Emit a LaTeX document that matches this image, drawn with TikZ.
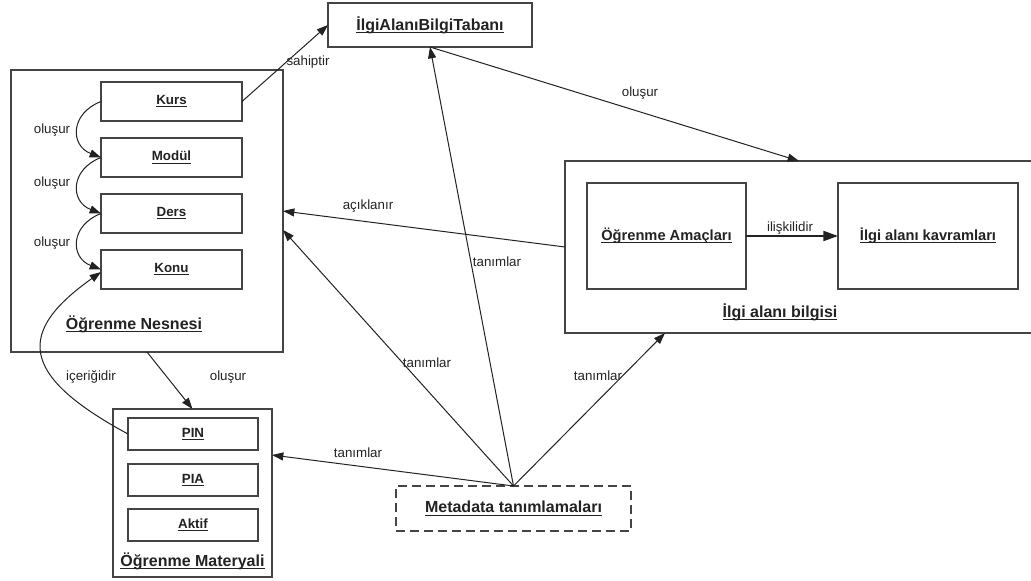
\documentclass[tikz,border=0pt]{standalone}
\usepackage{fontspec}
\setmainfont{Liberation Sans}
\usetikzlibrary{arrows.meta,calc}
\definecolor{ink}{HTML}{222222}
\definecolor{frame}{HTML}{444444}
% underline at a fixed depth below the baseline
\newcommand\ulab[1]{\setbox0=\hbox{#1}\rlap{\rule[-2pt]{\wd0}{0.8pt}}\box0}
\begin{document}
\begin{tikzpicture}[x=0.75pt,y=-0.75pt,
  box/.style={draw=frame,line width=0.9pt,rectangle,inner sep=0pt,outer sep=0pt,text=ink},
  itembox/.style={box,minimum width=105.75pt,minimum height=29.25pt,font=\fontsize{10}{12}\selectfont\bfseries},
  matbox/.style={box,minimum width=97.5pt,minimum height=24pt,font=\fontsize{10}{12}\selectfont\bfseries},
  grouplabel/.style={inner sep=0pt,text=ink,font=\fontsize{12}{14}\selectfont\bfseries},
  edgelabel/.style={inner sep=0pt,text=ink,font=\fontsize{10}{12}\selectfont},
  conn/.style={draw=ink,line width=0.75pt,-{Triangle[length=8.5pt,width=6pt]}}]
\useasboundingbox (0,0) rectangle (1031,581);

% knowledge base
\node[box,minimum width=153pt,minimum height=33pt,font=\fontsize{12}{14}\selectfont\bfseries] (ikb) at (430,25) {\ulab{İlgiAlanıBilgiTabanı}};

% learning object group
\node[box,minimum width=204pt,minimum height=211.5pt] (on) at (147,211) {};
\node[itembox] (kurs)  at (171.5,101.5) {\ulab{Kurs}};
\node[itembox] (modul) at (171.5,157.5) {\ulab{Modül}};
\node[itembox] (ders)  at (171.5,213.5) {\ulab{Ders}};
\node[itembox] (konu)  at (171.5,269.5) {\ulab{Konu}};
\node[grouplabel] (onlab) at (134,324) {\ulab{Öğrenme Nesnesi}};

% learning material group
\node[box,minimum width=119.25pt,minimum height=126pt] (om) at (192.5,493) {};
\node[matbox] (pin)   at (193,434) {\ulab{PIN}};
\node[matbox] (pia)   at (193,480) {\ulab{PIA}};
\node[matbox] (aktif) at (193,525) {\ulab{Aktif}};
\node[grouplabel] (omlab) at (192.5,561) {\ulab{Öğrenme Materyali}};

% domain knowledge group
\node[box,minimum width=351pt,minimum height=129pt] (iab) at (799,247) {};
\node[box,minimum width=119.25pt,minimum height=79.5pt,font=\fontsize{11}{13}\selectfont\bfseries] (oa) at (666.5,236) {\ulab{Öğrenme Amaçları}};
\node[box,minimum width=135pt,minimum height=79.5pt,font=\fontsize{11}{13}\selectfont\bfseries] (ik) at (928,236) {\ulab{İlgi alanı kavramları}};
\node[grouplabel] (iablab) at (780,312) {\ulab{İlgi alanı bilgisi}};

% metadata
\node[box,dash pattern=on 7pt off 3.5pt,minimum width=176.25pt,minimum height=33.75pt,font=\fontsize{12}{14}\selectfont\bfseries] (meta) at (513.5,508.5) {\ulab{Metadata tanımlamaları}};

% connectors
\draw[conn] (kurs.west) .. controls +(-31,12) and +(-31,-12) .. (modul.west);
\draw[conn] (modul.west) .. controls +(-31,12) and +(-31,-12) .. (ders.west);
\draw[conn] (ders.west) .. controls +(-31,12) and +(-31,-12) .. (konu.west);
\draw[conn] (pin.west) .. controls (17,374) and (18,331) .. ($(konu.west)+(0,2.5)$);
\draw[conn] (kurs.east) -- (ikb.west);
\draw[conn] (ikb.south) -- (iab.north);
\draw[conn] (iab.west) -- (on.east);
\draw[draw=ink,line width=1.5pt,-{Triangle[length=11pt,width=7.5pt]}] (oa.east) -- (ik.west);
\draw[conn] (on.south) -- (om.north);
\draw[conn] (meta.north) -- (ikb.south);
\draw[conn] (meta.north) -- ($(on.east)+(0,19)$);
\draw[conn] (meta.north) -- ($(iab.south west)+(100,0)$);
\draw[conn] (meta.north) -- ($(om.east)+(0,-38)$);

% connector labels
\node[edgelabel] (l1) at (52,130) {oluşur};
\node[edgelabel] (l2) at (52,183) {oluşur};
\node[edgelabel] (l3) at (52,243) {oluşur};
\node[edgelabel] (l4) at (308,62) {sahiptir};
\node[edgelabel] (l5) at (640,93) {oluşur};
\node[edgelabel] (l6) at (368,206) {açıklanır};
\node[edgelabel] (l7) at (790,228) {ilişkilidir};
\node[edgelabel] (l8) at (497,262) {tanımlar};
\node[edgelabel] (l9) at (427,363) {tanımlar};
\node[edgelabel] (l10) at (598,376) {tanımlar};
\node[edgelabel] (l11) at (358,453) {tanımlar};
\node[edgelabel] (l12) at (228,377) {oluşur};
\node[edgelabel] (l13) at (91,377) {içeriğidir};
\end{tikzpicture}
\end{document}
